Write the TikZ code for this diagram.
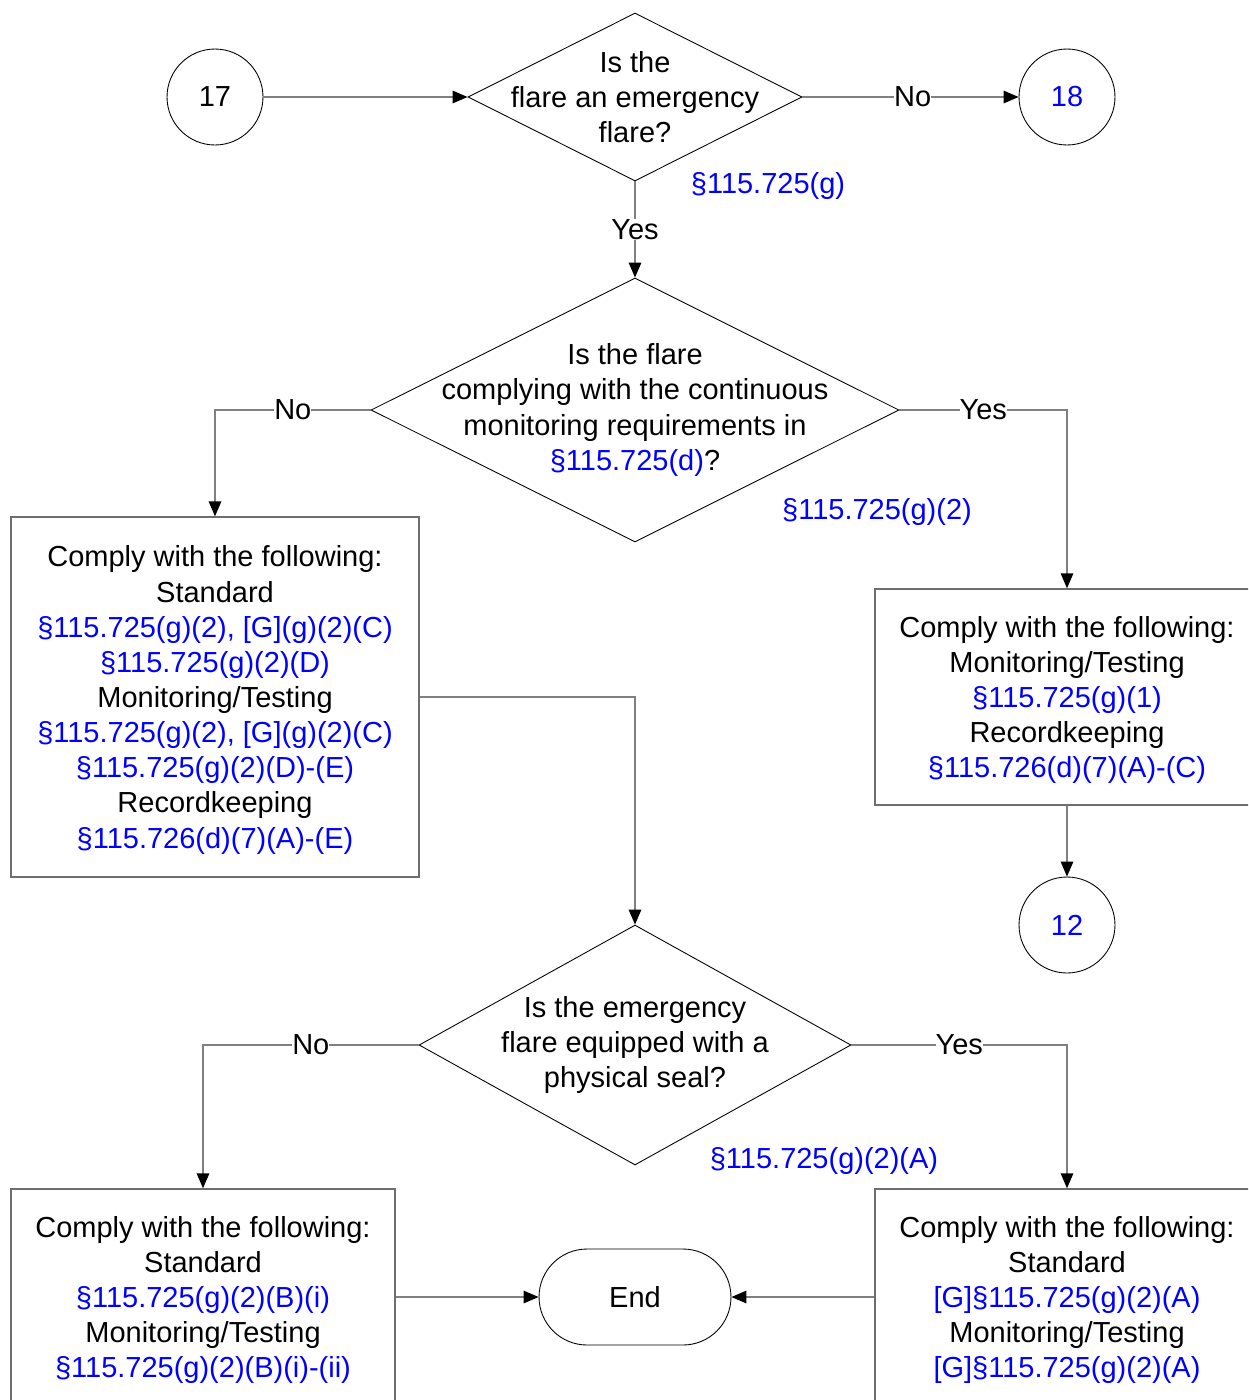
\documentclass[tikz,border=0pt]{standalone}
\usepackage{fontspec}
\setmainfont{Liberation Sans}
\usetikzlibrary{arrows.meta,shapes.geometric,positioning}
\definecolor{refc}{HTML}{0000FF}
\definecolor{linec}{HTML}{808080}
\definecolor{boxc}{HTML}{6E6E6E}
\newcommand{\rf}[1]{\textcolor{refc}{#1}}

\begin{document}
\begin{tikzpicture}[x=0.02cm, y=-0.02cm,
  font=\fontsize{16.5}{20}\selectfont,
  dec/.style={draw=black, line width=0.5pt, diamond, inner sep=0pt},
  conn/.style={draw=black, line width=0.5pt, circle, minimum size=1.92cm, inner sep=0pt},
  box/.style={draw=boxc, line width=0.8pt, align=center, inner sep=0pt, text depth=0pt},
  arr/.style={-{Triangle[length=0.3cm, width=0.25cm, color=black]}, draw=linec, line width=0.8pt},
  lbl/.style={fill=white, inner sep=0pt},
  ref/.style={text=refc}
]
  \clip (0,0) rectangle (1248,1400);

  % top row
  \node[conn] (c17) at (215,97) {17};
  \node[dec, minimum width=6.68cm, minimum height=3.36cm,
    label={[align=center]center:Is the\\flare an emergency\\flare?}] (emerg) at (635,97) {};
  \node[conn, text=refc] (c18) at (1067,97) {18};
  \node[ref] (refg) at (768,186) {§115.725(g)};

  % continuous monitoring question
  \node[dec, minimum width=10.56cm, minimum height=5.28cm,
    label={[align=center]center:Is the flare\\complying with the continuous\\monitoring requirements in\\\rf{§115.725(d)}?}] (contmon) at (635,410) {};
  \node[ref] (refg2) at (877,512) {§115.725(g)(2)};

  \node[box, minimum width=8.16cm, minimum height=7.2cm] (nocm) at (215,697)
    {Comply with the following:\\Standard\\
     \rf{§115.725(g)(2), [G](g)(2)(C)}\\\rf{§115.725(g)(2)(D)}\\
     Monitoring/Testing\\
     \rf{§115.725(g)(2), [G](g)(2)(C)}\\\rf{§115.725(g)(2)(D)-(E)}\\
     Recordkeeping\\\rf{§115.726(d)(7)(A)-(E)}};
  \node[box, minimum width=7.68cm, minimum height=4.32cm] (yescm) at (1067,697)
    {Comply with the following:\\Monitoring/Testing\\\rf{§115.725(g)(1)}\\
     Recordkeeping\\\rf{§115.726(d)(7)(A)-(C)}};
  \node[conn, text=refc] (c12) at (1067,925) {12};

  % physical seal question
  \node[dec, minimum width=8.64cm, minimum height=4.8cm,
    label={[align=center]center:Is the emergency\\flare equipped with a\\physical seal?}] (seal) at (635,1045) {};
  \node[ref] (refg2a) at (824,1161) {§115.725(g)(2)(A)};

  \node[box, minimum width=7.68cm, minimum height=4.32cm] (noseal) at (203,1297)
    {Comply with the following:\\Standard\\\rf{§115.725(g)(2)(B)(i)}\\
     Monitoring/Testing\\\rf{§115.725(g)(2)(B)(i)-(ii)}};
  \node[box, minimum width=7.68cm, minimum height=4.32cm] (yesseal) at (1067,1297)
    {Comply with the following:\\Standard\\\rf{[G]§115.725(g)(2)(A)}\\
     Monitoring/Testing\\\rf{[G]§115.725(g)(2)(A)}};
  \node[draw=black, line width=0.5pt, rounded corners=0.96cm, minimum width=3.84cm,
    minimum height=1.92cm] (fin) at (635,1297) {End};

  % connectors
  \draw[arr] (c17) -- (emerg.west);
  \draw[arr] (emerg.east) -- node[lbl, pos=0.51] {No} (c18);
  \draw[arr] (emerg.south) -- node[lbl, pos=0.5] {Yes} (contmon.north);
  \draw[arr] (contmon.west) -- node[lbl, pos=0.5] {No} (contmon.west -| nocm.north) -- (nocm.north);
  \draw[arr] (contmon.east) -- node[lbl, pos=0.5] {Yes} (contmon.east -| yescm.north) -- (yescm.north);
  \draw[arr] (yescm) -- (c12);
  \draw[arr] (nocm.east) -| (seal.north);
  \draw[arr] (seal.west) -- node[lbl, pos=0.5] {No} (seal.west -| noseal.north) -- (noseal.north);
  \draw[arr] (seal.east) -- node[lbl, pos=0.5] {Yes} (seal.east -| yesseal.north) -- (yesseal.north);
  \draw[arr] (noseal.east) -- (fin.west);
  \draw[arr] (yesseal.west) -- (fin.east);
\end{tikzpicture}
\end{document}
